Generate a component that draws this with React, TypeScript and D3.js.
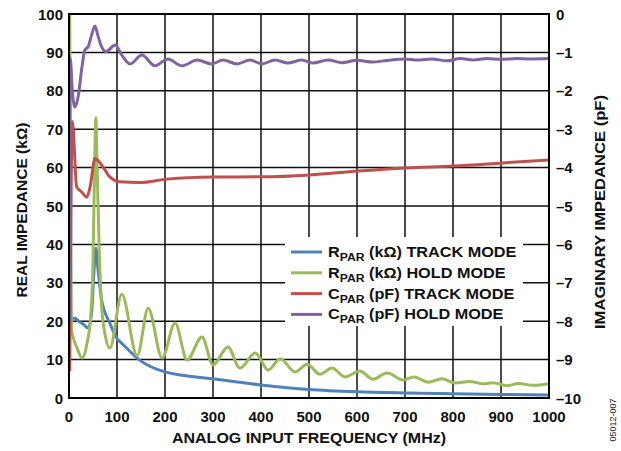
import * as d3 from "d3";

// tick labels
const xTicks = [0, 100, 200, 300, 400, 500, 600, 700, 800, 900, 1000];
const leftTicks = [0, 10, 20, 30, 40, 50, 60, 70, 80, 90, 100];
const rightTicks = [0, -1, -2, -3, -4, -5, -6, -7, -8, -9, -10];

// RPAR (kOhm) track mode
const rTrackFreq = [3, 12, 20, 30, 40, 47, 52, 56, 60, 68, 85, 100, 112, 148, 200, 300, 400, 500, 600, 700, 800, 900, 1000];
const rTrackKohm = [20.8, 20.8, 20, 19.2, 18.2, 22, 33, 39, 34, 25.5, 19.5, 15.5, 14, 9.8, 6.8, 5.0, 3.4, 2.2, 1.6, 1.3, 1.1, 0.9, 0.8];

// RPAR (kOhm) hold mode
const rHoldFreq = [1.5, 5, 17, 27, 38, 45, 50, 53, 56, 59, 63, 68, 76, 85, 110, 142, 165, 194, 221, 246, 277, 300, 331, 356, 388, 415, 440, 471, 496, 523, 548, 575, 606, 633, 663, 696, 719, 748, 777, 804, 835, 863, 883, 913, 935, 967, 1000];
const rHoldKohm = [100, 18, 13, 10.4, 14.5, 21, 35, 58, 73, 58, 38, 24, 16, 13, 27, 11, 23.4, 10.4, 19.5, 9.9, 15.9, 8.6, 13.3, 7.8, 11.7, 7.3, 10.2, 6.8, 8.8, 6.2, 7.8, 5.5, 7.0, 4.9, 6.5, 4.7, 5.5, 4.1, 5.0, 3.9, 4.3, 3.7, 4.0, 3.2, 3.8, 3.3, 3.7];

// CPAR (pF) track mode
const cTrackFreq = [1.5, 7, 16, 26, 37, 44, 54, 68, 85, 106, 148, 204, 300, 404, 502, 602, 704, 800, 902, 1000];
const cTrackPf = [-9.3, -2.8, -4.5, -4.63, -4.77, -4.5, -3.76, -3.93, -4.24, -4.37, -4.39, -4.3, -4.245, -4.24, -4.19, -4.09, -4.01, -3.96, -3.88, -3.8];

// CPAR (pF) hold mode
const cHoldFreq = [1, 2.5, 7, 12, 19, 27, 33, 40, 47, 54, 60, 65, 77, 96, 110, 127, 152, 179, 206, 235, 267, 297, 321, 350, 377, 402, 429, 456, 485, 508, 540, 569, 600, 633, 662, 700, 725, 756, 787, 815, 842, 871, 898, 933, 960, 1000];
const cHoldPf = [-8, -1.15, -2.0, -2.42, -2.16, -1.38, -0.94, -0.85, -0.55, -0.31, -0.55, -0.76, -0.98, -0.81, -1.07, -1.3, -1.07, -1.35, -1.17, -1.35, -1.2, -1.3, -1.2, -1.3, -1.2, -1.3, -1.2, -1.276, -1.2, -1.276, -1.2, -1.268, -1.206, -1.25, -1.21, -1.17, -1.2, -1.17, -1.22, -1.16, -1.2, -1.16, -1.18, -1.16, -1.17, -1.16];

const W = 621;
const H = 451;
const left = 69, right = 549, top = 14, bottom = 398;
const font = "'Liberation Sans', Arial, sans-serif";

export default function App() {
  const x = d3.scaleLinear().domain([0, 1000]).range([left, right]);
  const yL = d3.scaleLinear().domain([0, 100]).range([bottom, top]);
  const yR = d3.scaleLinear().domain([-10, 0]).range([bottom, top]);

  const lineL = d3.line<number[]>().x(d => x(d[0])).y(d => yL(d[1])).curve(d3.curveMonotoneX);
  const lineR = d3.line<number[]>().x(d => x(d[0])).y(d => yR(d[1])).curve(d3.curveMonotoneX);

  const series = [
    { path: lineL(rTrackFreq.map((f, i) => [f, rTrackKohm[i]])), color: "#4f81bd" },
    { path: lineL(rHoldFreq.map((f, i) => [f, rHoldKohm[i]])), color: "#9bbb59" },
    { path: lineR(cTrackFreq.map((f, i) => [f, cTrackPf[i]])), color: "#c0504d" },
    { path: lineR(cHoldFreq.map((f, i) => [f, cHoldPf[i]])), color: "#8064a2" },
  ];

  const legend = [
    { main: "R", rest: " (kΩ) TRACK MODE", color: "#4f81bd" },
    { main: "R", rest: " (kΩ) HOLD MODE", color: "#9bbb59" },
    { main: "C", rest: " (pF) TRACK MODE", color: "#c0504d" },
    { main: "C", rest: " (pF) HOLD MODE", color: "#8064a2" },
  ];

  return (
    <svg width={W} height={H} style={{ position: "absolute", left: 0, top: 0, background: "#fff" }} fontFamily={font}>
      <defs>
        <clipPath id="plot">
          <rect x={left} y={top} width={right - left} height={bottom - top} />
        </clipPath>
      </defs>
      <g stroke="#111" strokeWidth={1.5}>
        {xTicks.map(t => (
          <line key={"gx" + t} x1={x(t)} x2={x(t)} y1={top} y2={bottom} />
        ))}
        {leftTicks.map(t => (
          <line key={"gy" + t} x1={left} x2={right} y1={yL(t)} y2={yL(t)} />
        ))}
      </g>
      <rect x={285} y={237} width={238} height={89} fill="#fff" />
      <g clipPath="url(#plot)" fill="none" strokeWidth={3} strokeLinejoin="round">
        {series.map((s, i) => (
          <path key={i} d={s.path ?? ""} stroke={s.color} />
        ))}
      </g>
      <rect x={left} y={top} width={right - left} height={bottom - top} fill="none" stroke="#000" strokeWidth={2} />
      <g fontWeight="bold" fontSize={15} fill="#111">
        {leftTicks.map(t => (
          <text key={"l" + t} x={63} y={yL(t)} textAnchor="end" dominantBaseline="central">{t}</text>
        ))}
        {rightTicks.map(t => (
          <text key={"r" + t} x={556} y={yR(t)} textAnchor="start" dominantBaseline="central">
            {t === 0 ? "0" : "–" + Math.abs(t)}
          </text>
        ))}
        {xTicks.map(t => (
          <text key={"b" + t} x={x(t)} y={416} textAnchor="middle" dominantBaseline="central">{t}</text>
        ))}
      </g>
      <g fontWeight="bold" fontSize={14.5} fill="#111">
        <text x={309} y={443} textAnchor="middle" textLength={274} lengthAdjust="spacingAndGlyphs">ANALOG INPUT FREQUENCY (MHz)</text>
        <text transform="translate(27,210) rotate(-90)" textAnchor="middle" textLength={175} lengthAdjust="spacingAndGlyphs">REAL IMPEDANCE (kΩ)</text>
        <text transform="translate(605,212) rotate(-90)" textAnchor="middle" textLength={234} lengthAdjust="spacingAndGlyphs">IMAGINARY IMPEDANCE (pF)</text>
      </g>
      <text transform="translate(616,420) rotate(-90)" textAnchor="middle" fontSize={9} fill="#222">05012-007</text>
      <g fontWeight="bold" fontSize={14} fill="#111">
        {legend.map((l, i) => {
          const yy = 252 + i * 20.8;
          return (
            <g key={i}>
              <line x1={291} x2={322} y1={yy} y2={yy} stroke={l.color} strokeWidth={3} />
              <text transform={`translate(328,${yy + 5}) scale(1.16,1)`}>
                {l.main}
                <tspan fontSize={10.5} dy={4}>PAR</tspan>
                <tspan dy={-4}>{l.rest}</tspan>
              </text>
            </g>
          );
        })}
      </g>
    </svg>
  );
}
